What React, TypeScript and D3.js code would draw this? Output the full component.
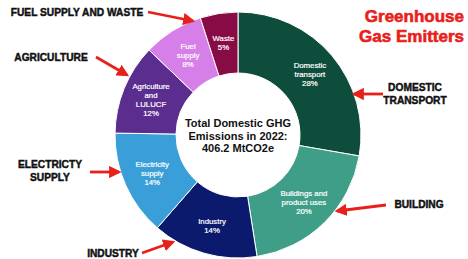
import React from 'react';
import * as d3 from 'd3';

const sectors = ['Domestic transport', 'Buildings and product uses', 'Industry', 'Electricity supply', 'Agriculture and LULUCF', 'Fuel supply', 'Waste'];
const shares = [28, 20, 14, 14, 12, 8, 5];
const labelLines = [
  ['Domestic', 'transport'],
  ['Buildings and', 'product uses'],
  ['Industry'],
  ['Electricity', 'supply'],
  ['Agriculture', 'and', 'LULUCF'],
  ['Fuel', 'supply'],
  ['Waste'],
];
const colors = ['#0e4d3b', '#3f9e88', '#0b1a6c', '#3a9fd8', '#5a2d8f', '#d67fe8', '#870b45'];
const centerText = ['Total Domestic GHG', 'Emissions in 2022:', '406.2 MtCO2e'];

// callouts: text lines, text anchor pos, arrow from -> to
const callouts = [
  { lines: ['FUEL SUPPLY AND WASTE'], x: 77, y: 16, from: [148, 12], to: [193, 21] },
  { lines: ['AGRICULTURE'], x: 51, y: 61, from: [96, 57], to: [127, 75] },
  { lines: ['ELECTRICTY', 'SUPPLY'], x: 50, y: 168, from: [90, 172], to: [119, 172] },
  { lines: ['INDUSTRY'], x: 113, y: 257, from: [142, 253], to: [173, 242] },
  { lines: ['DOMESTIC', 'TRANSPORT'], x: 415, y: 91, from: [383, 94], to: [354, 94] },
  { lines: ['BUILDING'], x: 419, y: 208, from: [386, 205], to: [337, 211] },
];

const W = 468;
const H = 259;
const cx = 238;
const cy = 135;
const outerR = 123;
const innerR = 62;

export default function App() {
  const pie = d3.pie<number>().sort(null).value(d => d);
  const arcs = pie(shares);
  const arc = d3.arc<d3.PieArcDatum<number>>().innerRadius(innerR).outerRadius(outerR);
  const labelArc = d3.arc<d3.PieArcDatum<number>>().innerRadius(93).outerRadius(95);

  return (
    <svg width={W} height={H} style={{ position: 'absolute', left: 0, top: 0, background: '#fff' }}
      fontFamily="'Liberation Sans', Arial, sans-serif">
      <defs>
        <marker id="head" viewBox="0 0 10 10" refX="8" refY="5" markerWidth="4.4" markerHeight="4.4" orient="auto">
          <path d="M0,0 L10,5 L0,10 z" fill="#e8201b" />
        </marker>
      </defs>
      <g transform={`translate(${cx},${cy})`}>
        {arcs.map((a, i) => (
          <path key={sectors[i]} d={arc(a) || ''} fill={colors[i]} stroke="#fff" strokeWidth={1} />
        ))}
        {arcs.map((a, i) => {
          const [lx, ly] = labelArc.centroid(a);
          const lines = [...labelLines[i], `${shares[i]}%`];
          const lh = 9;
          const y0 = ly - ((lines.length - 1) * lh) / 2 + 3;
          return (
            <text key={'l' + i} x={lx} textAnchor="middle" fill="#fff" fontSize={7.8}
              stroke="#fff" strokeWidth={0.2}>
              {lines.map((t, j) => (
                <tspan key={j} x={lx} y={y0 + j * lh}>{t}</tspan>
              ))}
            </text>
          );
        })}
        <text textAnchor="middle" fontSize={11} fontWeight="bold" fill="#111">
          {centerText.map((t, j) => (
            <tspan key={j} x={0} y={-8 + j * 12.5}>{t}</tspan>
          ))}
        </text>
      </g>
      <text textAnchor="end" fill="#e8201b" fontSize={17} fontWeight="bold" stroke="#e8201b" strokeWidth={0.6}>
        <tspan x={464} y={22}>Greenhouse</tspan>
        <tspan x={464} y={42}>Gas Emitters</tspan>
      </text>
      {callouts.map((c, i) => (
        <g key={'c' + i}>
          <text textAnchor="middle" fontSize={10.2} fontWeight={900} fill="#111" stroke="#111" strokeWidth={0.45}>
            {c.lines.map((t, j) => (
              <tspan key={j} x={c.x} y={c.y + j * 13}>{t}</tspan>
            ))}
          </text>
          <line x1={c.from[0]} y1={c.from[1]} x2={c.to[0]} y2={c.to[1]} stroke="#e8201b" strokeWidth={2.8}
            markerEnd="url(#head)" />
        </g>
      ))}
    </svg>
  );
}
